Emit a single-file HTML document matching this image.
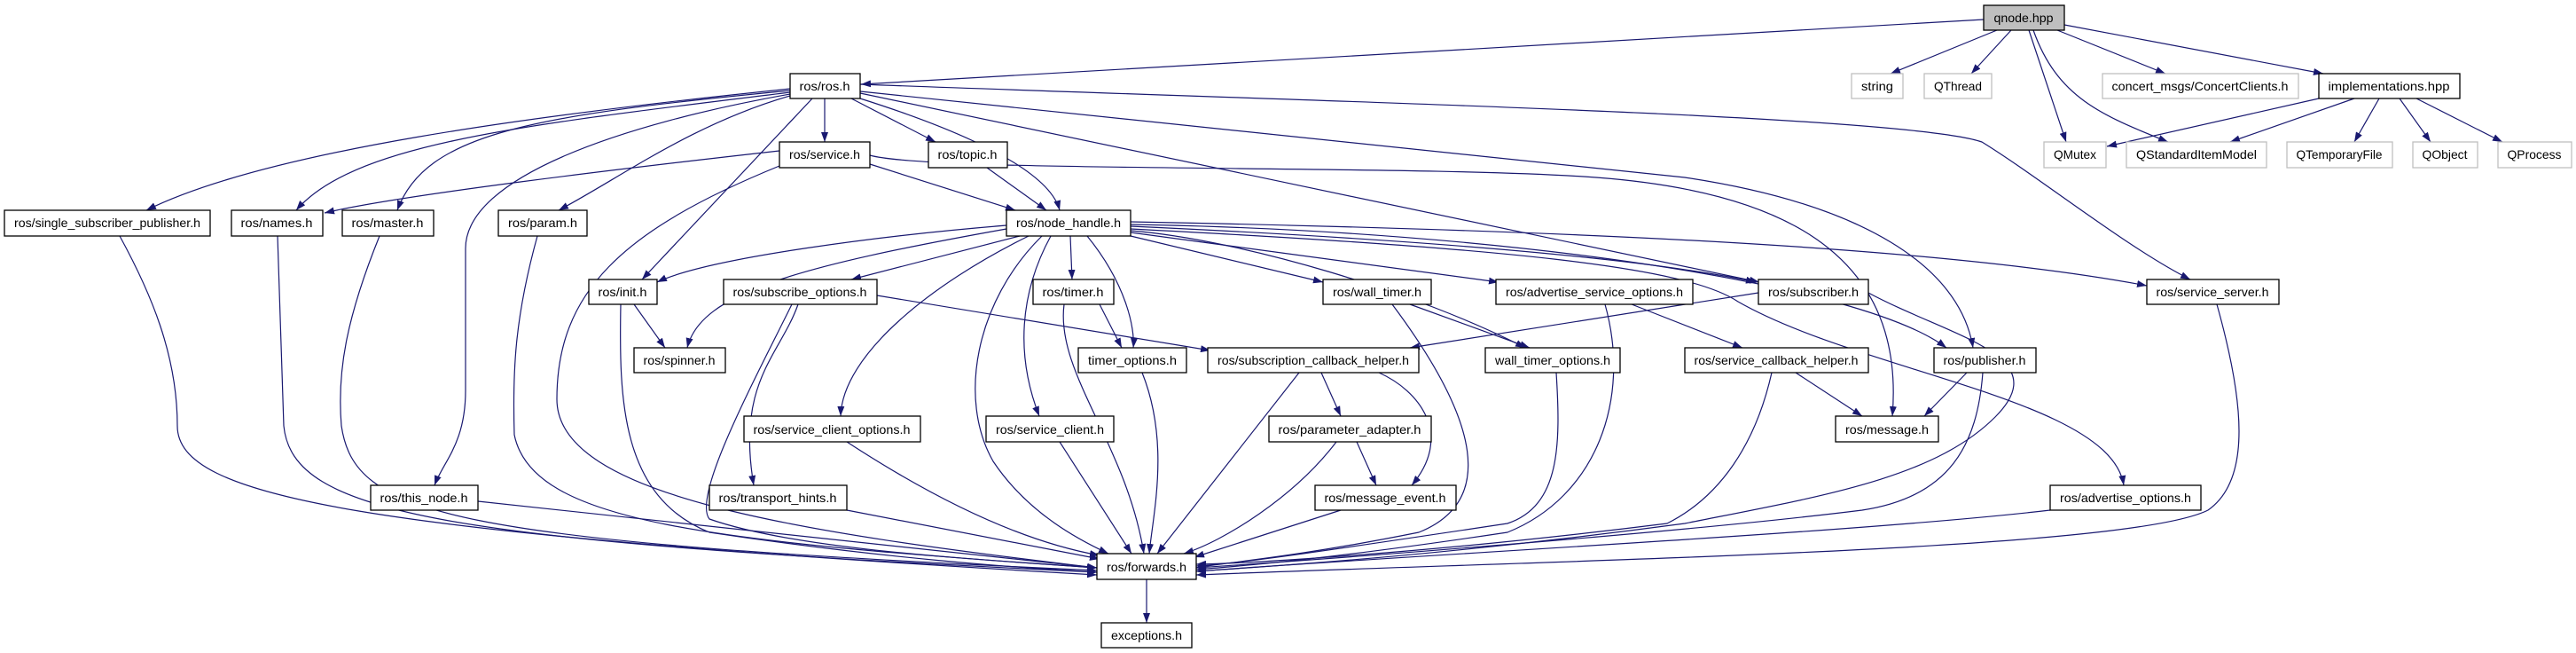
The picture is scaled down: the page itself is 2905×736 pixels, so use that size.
<!DOCTYPE html>
<html><head><meta charset="utf-8"><style>
html,body{margin:0;padding:0;background:#fff;}
svg{display:block;}
text{font-family:"Liberation Sans",sans-serif;font-size:14px;fill:#000;}
</style></head><body>
<svg width="2905" height="736" viewBox="0 0 2905 736" xmlns="http://www.w3.org/2000/svg">
<defs>
<marker id="a" markerWidth="11" markerHeight="8" refX="11" refY="4" orient="auto" markerUnits="userSpaceOnUse">
<path d="M0,0 L11,4 L0,8 z" fill="#191970"/>
</marker>
</defs>
<g fill="none" stroke="#191970" stroke-width="1.2" marker-end="url(#a)">
<path d="M2237 22 L971 95"/>
<path d="M2252 34 L2132 83"/>
<path d="M2268 34 L2223 83"/>
<path d="M2288 34 L2330 160"/>
<path d="M2293 34 C2320 110, 2370 130, 2445 160"/>
<path d="M2320 34 L2442 83"/>
<path d="M2328 28 L2620 83"/>
<path d="M2615 111 L2376 165"/>
<path d="M2655 111 L2515 160"/>
<path d="M2683 111 L2655 160"/>
<path d="M2706 111 L2741 160"/>
<path d="M2725 111 L2822 160"/>
<path d="M891 100 C600 130, 300 170, 165 237"/>
<path d="M891 104 C600 140, 400 160, 334 237"/>
<path d="M891 102 C600 130, 480 150, 448 237"/>
<path d="M891 106 C700 140, 525 200, 525 280 L525 440 C525 500, 500 520, 490 547"/>
<path d="M891 108 C780 140, 700 200, 630 237"/>
<path d="M916 111 L724 315"/>
<path d="M930 111 L930 160"/>
<path d="M960 111 L1055 160"/>
<path d="M970 111 C1030 130, 1180 180, 1195 237"/>
<path d="M879 187 C700 260, 628 330, 628 450 C628 560, 900 600, 1237 640"/>
<path d="M970 105 L1984 318"/>
<path d="M970 103 C1400 150, 1700 180, 1900 200 C2100 230, 2210 300, 2225 392"/>
<path d="M970 95 C1500 115, 2150 130, 2235 160 C2300 200, 2400 280, 2470 315"/>
<path d="M1135 254 C1000 265, 800 290, 741 318"/>
<path d="M1135 258 C900 300, 790 330, 775 392"/>
<path d="M1150 266 L960 315"/>
<path d="M1160 266 C1050 320, 950 400, 948 469"/>
<path d="M1175 266 C1100 340, 1080 450, 1120 520 C1160 580, 1220 610, 1250 624"/>
<path d="M1185 266 C1150 330, 1145 400, 1172 469"/>
<path d="M1207 266 L1209 315"/>
<path d="M1226 266 C1270 320, 1280 370, 1278 392"/>
<path d="M1275 266 L1492 318"/>
<path d="M1275 260 C1400 270, 1600 330, 1720 392"/>
<path d="M1275 262 L1690 318"/>
<path d="M1275 255 C1600 270, 1850 290, 1980 318"/>
<path d="M1275 253 C1700 260, 2100 320, 2195 392"/>
<path d="M1275 258 C1700 280, 1900 300, 1960 340 C2100 420, 2380 450, 2395 547"/>
<path d="M1275 250 C1800 260, 2200 280, 2421 322"/>
<path d="M1113 189 L1180 237"/>
<path d="M981 185 L1145 237"/>
<path d="M879 170 C700 190, 450 220, 366 240"/>
<path d="M981 175 C1050 195, 1600 185, 1800 200 C2000 215, 2150 280, 2134 469"/>
<path d="M715 343 L750 392"/>
<path d="M700 343 C698 450, 700 560, 800 600 C1000 630, 1150 640, 1237 645"/>
<path d="M989 333 L1365 395"/>
<path d="M900 343 C880 400, 830 430, 850 547"/>
<path d="M893 343 C850 430, 780 560, 800 585 C900 620, 1100 630, 1237 640"/>
<path d="M1240 343 L1265 392"/>
<path d="M1200 343 C1190 420, 1270 500, 1290 624"/>
<path d="M1590 343 L1725 392"/>
<path d="M1570 343 C1650 450, 1700 560, 1600 600 C1450 630, 1370 635, 1349 640"/>
<path d="M1840 343 L1965 392"/>
<path d="M1810 343 C1840 450, 1800 560, 1700 600 C1500 630, 1400 638, 1349 642"/>
<path d="M1983 330 L1590 392"/>
<path d="M2107 330 C2200 380, 2320 400, 2250 470 C2180 540, 2050 560, 1900 590 C1600 630, 1400 640, 1349 644"/>
<path d="M2500 343 C2530 450, 2540 540, 2490 575 C2400 620, 1800 630, 1349 648"/>
<path d="M135 266 C170 330, 200 400, 200 480 C200 560, 400 600, 1237 648"/>
<path d="M313 266 L320 480 C330 580, 500 610, 1237 645"/>
<path d="M428 266 C390 360, 380 420, 385 480 C400 580, 500 610, 1237 643"/>
<path d="M606 266 C580 360, 578 420, 580 490 C600 590, 800 610, 1237 640"/>
<path d="M539 565 L1237 640"/>
<path d="M955 575 L1240 630"/>
<path d="M955 498 C1050 560, 1150 610, 1240 626"/>
<path d="M1195 498 L1276 624"/>
<path d="M1288 420 C1320 500, 1300 580, 1296 624"/>
<path d="M1465 420 L1305 624"/>
<path d="M1490 420 L1512 469"/>
<path d="M1555 420 C1600 440, 1640 490, 1592 547"/>
<path d="M1507 498 C1460 560, 1380 610, 1335 624"/>
<path d="M1530 498 L1552 547"/>
<path d="M1512 575 L1347 628"/>
<path d="M1755 420 C1760 500, 1760 570, 1700 590 C1500 620, 1400 635, 1349 638"/>
<path d="M2025 420 L2100 469"/>
<path d="M1998 420 C1980 500, 1940 560, 1880 590 C1600 625, 1400 635, 1349 636"/>
<path d="M2218 420 L2170 469"/>
<path d="M2236 420 C2230 500, 2200 560, 2100 575 C1900 600, 1500 630, 1349 640"/>
<path d="M2312 575 C2100 600, 1600 625, 1349 644"/>
<path d="M1293 653 L1293 702"/>
</g>
<g stroke="#000" stroke-width="1.3" fill="#fff">
<rect x="2237" y="6" width="91" height="28" fill="#bfbfbf"/>
<rect x="891" y="83" width="79" height="28"/>
<rect x="2088" y="83" width="58" height="28" stroke="#bfbfbf"/>
<rect x="2170" y="83" width="76" height="28" stroke="#bfbfbf"/>
<rect x="2371" y="83" width="221" height="28" stroke="#bfbfbf"/>
<rect x="2615" y="83" width="159" height="28"/>
<rect x="2305" y="160" width="70" height="29" stroke="#bfbfbf"/>
<rect x="2398" y="160" width="158" height="29" stroke="#bfbfbf"/>
<rect x="2579" y="160" width="119" height="29" stroke="#bfbfbf"/>
<rect x="2721" y="160" width="73" height="29" stroke="#bfbfbf"/>
<rect x="2817" y="160" width="83" height="29" stroke="#bfbfbf"/>
<rect x="879" y="160" width="102" height="29"/>
<rect x="1047" y="160" width="89" height="29"/>
<rect x="5" y="237" width="232" height="29"/>
<rect x="261" y="237" width="103" height="29"/>
<rect x="386" y="237" width="103" height="29"/>
<rect x="562" y="237" width="100" height="29"/>
<rect x="1135" y="237" width="140" height="29"/>
<rect x="664" y="315" width="77" height="28"/>
<rect x="816" y="315" width="173" height="28"/>
<rect x="1165" y="315" width="91" height="28"/>
<rect x="1492" y="315" width="122" height="28"/>
<rect x="1687" y="315" width="222" height="28"/>
<rect x="1983" y="315" width="124" height="28"/>
<rect x="2421" y="315" width="149" height="28"/>
<rect x="715" y="392" width="103" height="28"/>
<rect x="1216" y="392" width="122" height="28"/>
<rect x="1362" y="392" width="238" height="28"/>
<rect x="1675" y="392" width="152" height="28"/>
<rect x="1900" y="392" width="207" height="28"/>
<rect x="2181" y="392" width="115" height="28"/>
<rect x="839" y="469" width="199" height="29"/>
<rect x="1112" y="469" width="144" height="29"/>
<rect x="1431" y="469" width="183" height="29"/>
<rect x="2070" y="469" width="116" height="29"/>
<rect x="418" y="547" width="121" height="28"/>
<rect x="800" y="547" width="155" height="28"/>
<rect x="1483" y="547" width="159" height="28"/>
<rect x="2312" y="547" width="170" height="28"/>
<rect x="1237" y="624" width="112" height="29"/>
<rect x="1242" y="702" width="102" height="28"/>
</g>
<g text-anchor="middle" lengthAdjust="spacingAndGlyphs">
<text x="2282" y="25" textLength="67" lengthAdjust="spacingAndGlyphs">qnode.hpp</text>
<text x="930" y="102" textLength="57" lengthAdjust="spacingAndGlyphs">ros/ros.h</text>
<text x="2117" y="102" textLength="36" lengthAdjust="spacingAndGlyphs">string</text>
<text x="2208" y="102" textLength="54" lengthAdjust="spacingAndGlyphs">QThread</text>
<text x="2481" y="102" textLength="199" lengthAdjust="spacingAndGlyphs">concert_msgs/ConcertClients.h</text>
<text x="2694" y="102" textLength="137" lengthAdjust="spacingAndGlyphs">implementations.hpp</text>
<text x="2340" y="179" textLength="48" lengthAdjust="spacingAndGlyphs">QMutex</text>
<text x="2477" y="179" textLength="136" lengthAdjust="spacingAndGlyphs">QStandardItemModel</text>
<text x="2638" y="179" textLength="97" lengthAdjust="spacingAndGlyphs">QTemporaryFile</text>
<text x="2757" y="179" textLength="51" lengthAdjust="spacingAndGlyphs">QObject</text>
<text x="2858" y="179" textLength="61" lengthAdjust="spacingAndGlyphs">QProcess</text>
<text x="930" y="179" textLength="80" lengthAdjust="spacingAndGlyphs">ros/service.h</text>
<text x="1091" y="179" textLength="67" lengthAdjust="spacingAndGlyphs">ros/topic.h</text>
<text x="121" y="256" textLength="210" lengthAdjust="spacingAndGlyphs">ros/single_subscriber_publisher.h</text>
<text x="312" y="256" textLength="81" lengthAdjust="spacingAndGlyphs">ros/names.h</text>
<text x="437" y="256" textLength="81" lengthAdjust="spacingAndGlyphs">ros/master.h</text>
<text x="612" y="256" textLength="78" lengthAdjust="spacingAndGlyphs">ros/param.h</text>
<text x="1205" y="256" textLength="118" lengthAdjust="spacingAndGlyphs">ros/node_handle.h</text>
<text x="702" y="334" textLength="55" lengthAdjust="spacingAndGlyphs">ros/init.h</text>
<text x="902" y="334" textLength="151" lengthAdjust="spacingAndGlyphs">ros/subscribe_options.h</text>
<text x="1210" y="334" textLength="69" lengthAdjust="spacingAndGlyphs">ros/timer.h</text>
<text x="1553" y="334" textLength="100" lengthAdjust="spacingAndGlyphs">ros/wall_timer.h</text>
<text x="1798" y="334" textLength="200" lengthAdjust="spacingAndGlyphs">ros/advertise_service_options.h</text>
<text x="2045" y="334" textLength="102" lengthAdjust="spacingAndGlyphs">ros/subscriber.h</text>
<text x="2495" y="334" textLength="127" lengthAdjust="spacingAndGlyphs">ros/service_server.h</text>
<text x="766" y="411" textLength="81" lengthAdjust="spacingAndGlyphs">ros/spinner.h</text>
<text x="1277" y="411" textLength="100" lengthAdjust="spacingAndGlyphs">timer_options.h</text>
<text x="1481" y="411" textLength="216" lengthAdjust="spacingAndGlyphs">ros/subscription_callback_helper.h</text>
<text x="1751" y="411" textLength="130" lengthAdjust="spacingAndGlyphs">wall_timer_options.h</text>
<text x="2003" y="411" textLength="185" lengthAdjust="spacingAndGlyphs">ros/service_callback_helper.h</text>
<text x="2238" y="411" textLength="93" lengthAdjust="spacingAndGlyphs">ros/publisher.h</text>
<text x="938" y="489" textLength="177" lengthAdjust="spacingAndGlyphs">ros/service_client_options.h</text>
<text x="1184" y="489" textLength="122" lengthAdjust="spacingAndGlyphs">ros/service_client.h</text>
<text x="1522" y="489" textLength="161" lengthAdjust="spacingAndGlyphs">ros/parameter_adapter.h</text>
<text x="2128" y="489" textLength="94" lengthAdjust="spacingAndGlyphs">ros/message.h</text>
<text x="478" y="566" textLength="99" lengthAdjust="spacingAndGlyphs">ros/this_node.h</text>
<text x="877" y="566" textLength="133" lengthAdjust="spacingAndGlyphs">ros/transport_hints.h</text>
<text x="1562" y="566" textLength="137" lengthAdjust="spacingAndGlyphs">ros/message_event.h</text>
<text x="2397" y="566" textLength="148" lengthAdjust="spacingAndGlyphs">ros/advertise_options.h</text>
<text x="1293" y="644" textLength="90" lengthAdjust="spacingAndGlyphs">ros/forwards.h</text>
<text x="1293" y="721" textLength="80" lengthAdjust="spacingAndGlyphs">exceptions.h</text>
</g>
</svg>
</body></html>
